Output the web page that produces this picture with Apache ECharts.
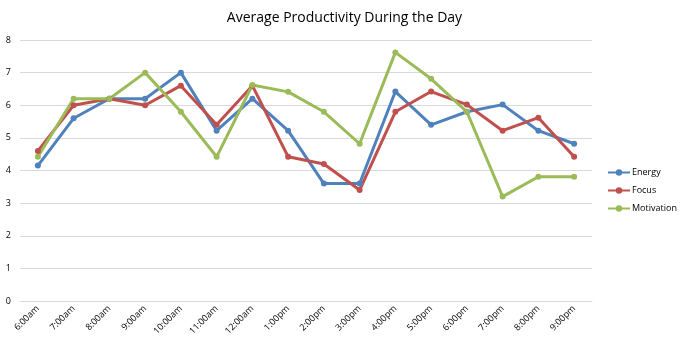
<!DOCTYPE html>
<html><head><meta charset="utf-8">
<script src="https://cdn.jsdelivr.net/npm/echarts@6/dist/echarts.min.js"></script>
<style>html,body{margin:0;padding:0;background:#fff}#c{width:689px;height:348px}</style>
</head><body><div id="c"></div>
<script>
var categories = ["6:00am","7:00am","8:00am","9:00am","10:00am","11:00am","12:00am","1:00pm","2:00pm","3:00pm","4:00pm","5:00pm","6:00pm","7:00pm","8:00pm","9:00pm"];
var energy =     [4.15, 5.6, 6.2, 6.2, 7.0, 5.22, 6.2, 5.22, 3.6, 3.6, 6.42, 5.4, 5.8, 6.02, 5.22, 4.82];
var focus =      [4.6, 6.0, 6.2, 6.0, 6.6, 5.4, 6.6, 4.42, 4.2, 3.4, 5.8, 6.42, 6.02, 5.22, 5.62, 4.42];
var motivation = [4.42, 6.2, 6.2, 7.0, 5.8, 4.42, 6.62, 6.41, 5.8, 4.82, 7.62, 6.81, 5.8, 3.2, 3.81, 3.81];
var yTicks = [0,1,2,3,4,5,6,7,8];

var font = "'Open Sans', 'Liberation Sans', sans-serif";
function s(name, data, color){
  return {name:name, type:'line', data:data, symbol:'circle', symbolSize:6,
    lineStyle:{width:3, color:color}, itemStyle:{color:color}, animation:false};
}
var chart = echarts.init(document.getElementById('c'));
chart.setOption({
  animation:false,
  title:{text:'Average Productivity During the Day', left:'center', top:6,
    textStyle:{fontFamily:font, fontSize:14, fontWeight:'normal', color:'#000'}},
  grid:{left:20, right:97, top:40, bottom:47, containLabel:false},
  legend:{orient:'vertical', left:602, top:163, itemGap:9, itemWidth:22, itemHeight:8,
    textStyle:{fontFamily:font, fontSize:9, color:'#000', padding:[0,0,0,-3]},
    data:['Energy','Focus','Motivation']},
  xAxis:{type:'category', data:categories, boundaryGap:true,
    axisLine:{lineStyle:{color:'#d9d9d9'}}, axisTick:{show:false},
    axisLabel:{rotate:45, fontFamily:font, fontSize:9, color:'#000', margin:6, interval:0}},
  yAxis:{type:'value', min:yTicks[0], max:yTicks[yTicks.length-1], interval:1,
    axisLine:{show:false}, axisTick:{show:false},
    axisLabel:{fontFamily:font, fontSize:9, color:'#000', margin:9},
    splitLine:{lineStyle:{color:'#d9d9d9'}}},
  series:[s('Energy',energy,'#4F81BD'), s('Focus',focus,'#C0504D'), s('Motivation',motivation,'#9BBB59')]
});
</script></body></html>
